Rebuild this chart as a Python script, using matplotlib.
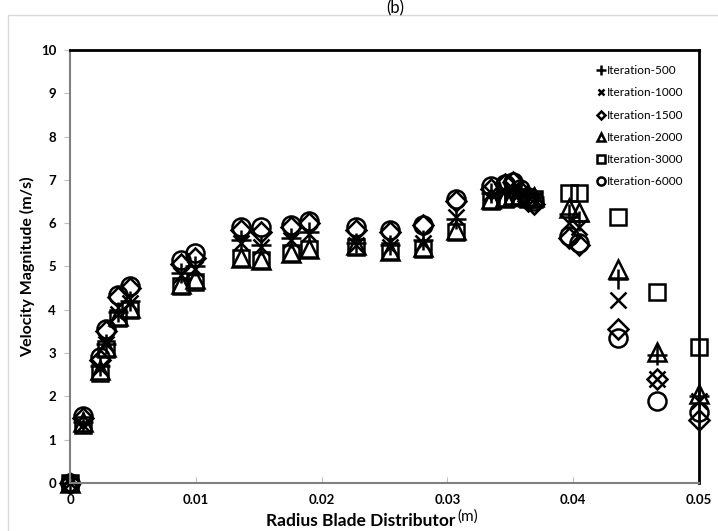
import matplotlib.pyplot as plt
from matplotlib.patches import Rectangle

# radius positions (m)
radius = [0.0, 0.001, 0.0024, 0.0029, 0.0038, 0.0048, 0.0088, 0.0099,
          0.0136, 0.0152, 0.0176, 0.0190, 0.0227, 0.0254, 0.0281, 0.0307,
          0.0335, 0.0346, 0.0352, 0.0358, 0.0364, 0.0369,
          0.0397, 0.0405, 0.0436, 0.0467, 0.0500]

# velocity magnitude (m/s) per iteration count
it_500 = [0.0, 1.40, 2.70, 3.20, 3.95, 4.20, 4.85, 5.00,
          5.60, 5.50, 5.65, 5.80, 5.55, 5.50, 5.60, 6.10,
          6.70, 6.75, 6.80, 6.70, 6.65, 6.60,
          6.20, 6.05, 4.70, 2.95, 2.00]
it_1000 = [0.0, 1.35, 2.65, 3.20, 3.90, 4.15, 4.80, 4.95,
           5.55, 5.45, 5.60, 5.75, 5.50, 5.45, 5.55, 6.15,
           6.70, 6.75, 6.80, 6.70, 6.60, 6.55,
           6.00, 5.90, 4.22, 2.40, 1.90]
it_1500 = [0.0, 1.50, 2.85, 3.50, 4.30, 4.50, 5.05, 5.20,
           5.85, 5.80, 5.90, 6.00, 5.85, 5.80, 5.95, 6.50,
           6.80, 6.90, 6.95, 6.75, 6.50, 6.45,
           5.65, 5.50, 3.55, 2.40, 1.45]
it_2000 = [0.0, 1.40, 2.60, 3.15, 3.85, 4.05, 4.60, 4.70,
           5.20, 5.15, 5.30, 5.40, 5.50, 5.35, 5.45, 5.85,
           6.55, 6.60, 6.65, 6.65, 6.60, 6.60,
           6.35, 6.25, 4.95, 3.02, 2.05]
it_3000 = [0.0, 1.35, 2.55, 3.10, 3.80, 4.00, 4.55, 4.65,
           5.20, 5.15, 5.30, 5.40, 5.45, 5.35, 5.40, 5.80,
           6.50, 6.55, 6.60, 6.60, 6.55, 6.55,
           6.70, 6.70, 6.15, 4.42, 3.15]
it_6000 = [0.0, 1.55, 2.90, 3.55, 4.35, 4.55, 5.15, 5.30,
           5.90, 5.90, 5.95, 6.05, 5.90, 5.85, 5.95, 6.55,
           6.85, 6.90, 6.95, 6.80, 6.60, 6.50,
           5.70, 5.55, 3.35, 1.90, 1.65]

labels = ["Iteration-500", "Iteration-1000", "Iteration-1500",
          "Iteration-2000", "Iteration-3000", "Iteration-6000"]

series = [it_500, it_1000, it_1500, it_2000, it_3000, it_6000]
markers = ['+', 'x', 'D', '^', 's', 'o']
msizes = [15, 11, 10, 13, 12, 13]

plt.rcParams['font.family'] = ['Lato', 'DejaVu Sans']

fig = plt.figure(figsize=(7.18, 5.31), dpi=100)
ax = fig.add_axes([0.0975, 0.0904, 0.876, 0.8156])

# light chart-area border
fig.patches.append(Rectangle((0.011, -0.02), 1.0, 0.992, transform=fig.transFigure,
                             fill=False, edgecolor='#d9d9d9', linewidth=1))
fig.text(0.55, 1.0, "(b)", ha='center', va='top', fontsize=12)

for vals, m, ms, lab in zip(series, markers, msizes, labels):
    ax.plot(radius, vals, linestyle='none', marker=m, markersize=ms,
            markerfacecolor='none', markeredgecolor='black', markeredgewidth=1.8,
            color='black', label=lab, clip_on=False)

ax.set_xlim(0, 0.05)
ax.set_ylim(0, 10)
ax.set_xticks([0, 0.01, 0.02, 0.03, 0.04, 0.05])
ax.set_xticklabels(['0', '0.01', '0.02', '0.03', '0.04', '0.05'])
ax.set_yticks(range(0, 11))

for lab in ax.get_xticklabels() + ax.get_yticklabels():
    lab.set_fontweight('bold')
    lab.set_fontsize(9.5)

ax.tick_params(axis='x', direction='in', length=4, color='#bfbfbf', pad=8)
ax.tick_params(axis='y', direction='out', length=4, color='#bfbfbf', pad=6)

for s in ['left', 'bottom']:
    ax.spines[s].set_color('#808080')
    ax.spines[s].set_linewidth(1.5)
for s in ['top', 'right']:
    ax.spines[s].set_color('black')
    ax.spines[s].set_linewidth(2)

ax.set_ylabel("Velocity Magnitude (m/s)", fontweight='bold', fontsize=11.5, labelpad=4)
ax.text(0.462, -0.088, "Radius Blade Distributor", transform=ax.transAxes,
        ha='center', va='center', fontweight='bold', fontsize=12.5)
ax.text(0.633, -0.078, "(m)", transform=ax.transAxes,
        ha='center', va='center', fontsize=11)

leg = ax.legend(loc='upper right', frameon=False, fontsize=8.5, markerscale=0.45,
                handlelength=0.5, handletextpad=0.3, labelspacing=0.95,
                borderaxespad=0.9)

fig.savefig("out.png", dpi=100)
